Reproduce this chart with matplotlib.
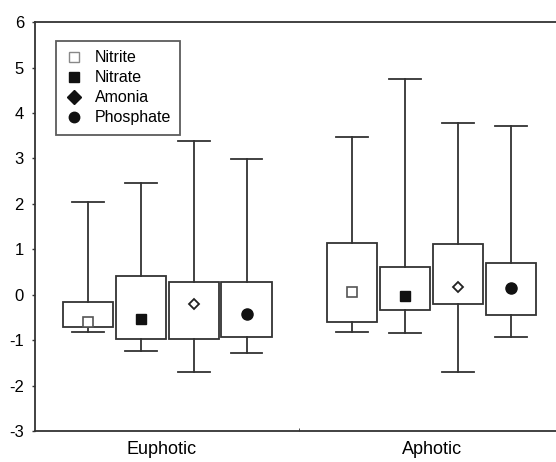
import matplotlib
matplotlib.use("Agg")
import matplotlib.pyplot as plt
from matplotlib.lines import Line2D
from matplotlib.patches import Rectangle

plt.rcParams['font.family'] = ['Liberation Sans', 'DejaVu Sans']

groups = ["Euphotic", "Aphotic"]
series = ["Nitrite", "Nitrate", "Amonia", "Phosphate"]
# per series: [Euphotic, Aphotic]
box_top = {"Nitrite": [-0.17, 1.15], "Nitrate": [0.42, 0.60], "Amonia": [0.27, 1.12], "Phosphate": [0.28, 0.71]}
box_bot = {"Nitrite": [-0.72, -0.61], "Nitrate": [-0.97, -0.33], "Amonia": [-0.97, -0.20], "Phosphate": [-0.93, -0.45]}
whisk_hi = {"Nitrite": [2.05, 3.47], "Nitrate": [2.45, 4.76], "Amonia": [3.38, 3.77], "Phosphate": [2.99, 3.72]}
whisk_lo = {"Nitrite": [-0.81, -0.82], "Nitrate": [-1.24, -0.84], "Amonia": [-1.69, -1.69], "Phosphate": [-1.29, -0.94]}
center = {"Nitrite": [-0.60, 0.05], "Nitrate": [-0.54, -0.03], "Amonia": [-0.20, 0.17], "Phosphate": [-0.43, 0.14]}

yticks = [-3, -2, -1, 0, 1, 2, 3, 4, 5, 6]

lc = "#333333"
lw = 1.3
marker_style = {
    "Nitrite": dict(marker="s", mfc="white", mec="#555555", ms=7, mew=1.2),
    "Nitrate": dict(marker="s", mfc="#111111", mec="#111111", ms=7, mew=1),
    "Amonia": dict(marker="D", mfc="white", mec="#222222", ms=5.5, mew=1.3),
    "Phosphate": dict(marker="o", mfc="#111111", mec="#111111", ms=8, mew=1),
}
legend_style = {
    "Nitrite": dict(marker="s", mfc="white", mec="#888888", ms=7, mew=1.0),
    "Nitrate": dict(marker="s", mfc="#111111", mec="#111111", ms=6.5, mew=1),
    "Amonia": dict(marker="D", mfc="#111111", mec="#111111", ms=7, mew=1),
    "Phosphate": dict(marker="o", mfc="#111111", mec="#111111", ms=7.5, mew=1),
}

fig = plt.figure(figsize=(5.56, 4.62), dpi=100)
ax = fig.add_axes([0.063, 0.067, 0.951, 0.885])

offsets = [-0.3, -0.1, 0.1, 0.3]
bw = 0.19
cap = 0.12
for si, s in enumerate(series):
    for gi, g in enumerate(groups):
        x = gi + 1 + offsets[si]
        t, b = box_top[s][gi], box_bot[s][gi]
        ax.add_patch(Rectangle((x - bw / 2, b), bw, t - b, fill=False, ec=lc, lw=lw, zorder=2))
        ax.plot([x, x], [t, whisk_hi[s][gi]], color=lc, lw=lw, zorder=2)
        ax.plot([x - cap / 2, x + cap / 2], [whisk_hi[s][gi]] * 2, color=lc, lw=lw, zorder=2)
        ax.plot([x, x], [b, whisk_lo[s][gi]], color=lc, lw=lw, zorder=2)
        ax.plot([x - cap / 2, x + cap / 2], [whisk_lo[s][gi]] * 2, color=lc, lw=lw, zorder=2)
        ax.plot([x], [center[s][gi]], linestyle="none", zorder=3, **marker_style[s])

ax.set_xlim(0.5, 2.5)
ax.set_ylim(-3, 6)
ax.set_yticks(yticks)
ax.set_yticklabels([str(v) for v in yticks], fontsize=12)
ax.tick_params(axis="y", length=2, width=1, color=lc, pad=6)
ax.set_xticks([0.98, 2])
ax.set_xticklabels(groups, fontsize=13)
ax.tick_params(axis="x", length=0, pad=7)
ax.set_xticks([1.5], minor=True)
ax.tick_params(axis="x", which="minor", length=2, direction="in", color=lc)
for sp in ax.spines.values():
    sp.set_color(lc)
    sp.set_linewidth(1.3)
ax.spines["right"].set_visible(False)

handles = [Line2D([], [], linestyle="none", **legend_style[s]) for s in series]
leg = ax.legend(handles, series, loc="upper left", bbox_to_anchor=(0.04, 0.955),
                frameon=True, fancybox=False, edgecolor=lc, fontsize=11.5,
                handlelength=1.0, handletextpad=0.8, labelspacing=0.32,
                borderpad=0.6, borderaxespad=0)
leg.get_frame().set_linewidth(1.3)

fig.savefig("out.png", dpi=100)
